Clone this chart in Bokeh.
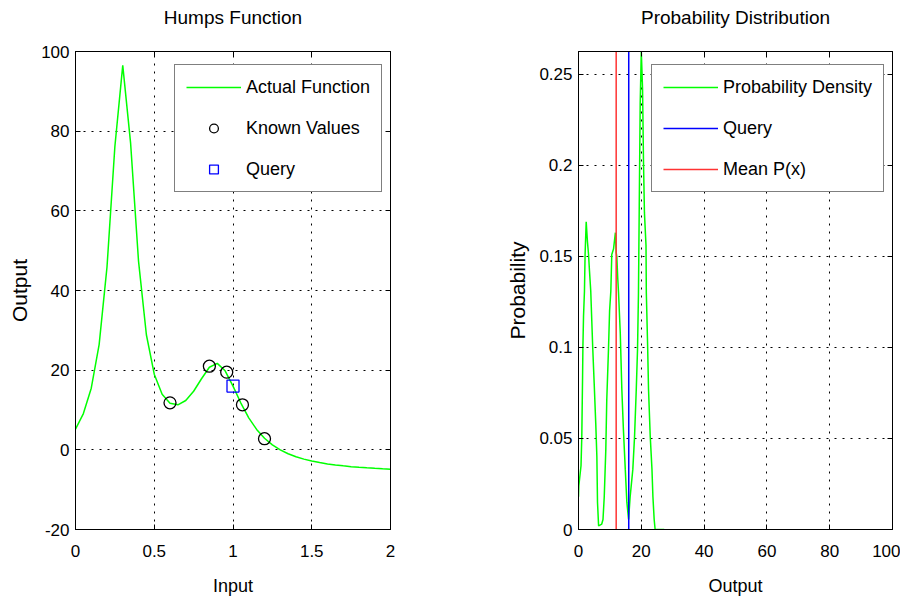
from bokeh.plotting import figure
from bokeh.layouts import row
from bokeh.models import (LinearAxis, FixedTicker, NumeralTickFormatter, Legend,
                          LegendItem, Range1d)
from bokeh.embed import file_html
from bokeh.resources import INLINE

# ---------------- data ----------------
humps_x = [0.00, 0.05, 0.10, 0.15, 0.20, 0.25, 0.30, 0.35, 0.40, 0.45, 0.50,
           0.55, 0.60, 0.65, 0.70, 0.75, 0.80, 0.85, 0.90, 0.95, 1.00,
           1.05, 1.10, 1.15, 1.20, 1.25, 1.30, 1.35, 1.40, 1.45, 1.50,
           1.55, 1.60, 1.65, 1.70, 1.75, 1.80, 1.85, 1.90, 1.95, 2.00]
humps_y = [5.18, 9.10, 15.47, 26.43, 45.89, 76.16, 96.50, 76.92, 47.45, 28.89, 19.00,
           13.95, 11.69, 11.30, 12.38, 14.71, 17.85, 20.73, 21.70, 19.84, 16.00,
           11.75, 8.04, 5.12, 2.91, 1.25, -0.01, -0.98, -1.73, -2.33, -2.81,
           -3.20, -3.53, -3.79, -4.02, -4.22, -4.38, -4.52, -4.65, -4.76, -4.86]
known_x = [0.60, 0.85, 0.96, 1.06, 1.20]
known_y = [11.8, 21.0, 19.5, 11.3, 2.8]
query_x = [1.00]
query_y = [16.0]

density_x = [0.0, 0.1, 0.8, 1.05, 1.3, 1.4, 1.6, 1.9, 2.1, 2.45, 2.85, 3.2, 3.5, 3.9,
             4.55, 5.0, 5.5, 5.85, 6.05, 6.4, 7.4, 7.8, 8.2, 8.7, 9.0, 9.55, 9.9,
             10.3, 10.6, 11.15, 11.75, 12.0, 12.2, 12.5, 12.75, 13.3, 13.8, 14.3,
             14.9, 15.4, 15.95, 16.45, 17.3, 17.85, 18.4, 18.8, 19.1, 19.35, 19.65,
             20.0, 20.4, 20.7, 21.0, 21.5, 21.6, 22.0, 22.3, 22.85, 23.4, 23.7,
             24.1, 24.4, 27.3]
density_y = [0.018, 0.024, 0.035, 0.051, 0.084, 0.100, 0.117, 0.131, 0.151, 0.169,
             0.158, 0.151, 0.142, 0.131, 0.099, 0.080, 0.058, 0.040, 0.015, 0.002,
             0.003, 0.0055, 0.018, 0.044, 0.071, 0.099, 0.120, 0.131, 0.151, 0.154,
             0.163, 0.152, 0.150, 0.138, 0.130, 0.108, 0.077, 0.055, 0.033, 0.015,
             0.0055, 0.018, 0.033, 0.051, 0.077, 0.099, 0.130, 0.178, 0.234, 0.2625,
             0.242, 0.202, 0.174, 0.156, 0.130, 0.102, 0.077, 0.051, 0.033, 0.018,
             0.0055, 0.0, 0.0]
query_value = 16.0
mean_value = 12.0

left_xticks = [0, 0.5, 1, 1.5, 2]
left_yticks = [-20, 0, 20, 40, 60, 80, 100]
right_xticks = [0, 20, 40, 60, 80, 100]
right_yticks = [0, 0.05, 0.1, 0.15, 0.2, 0.25]

FONT = "Liberation Sans"


def style(p, xt, yt, title):
    p.outline_line_color = "black"
    p.outline_line_width = 1
    for ax in p.xaxis + p.yaxis:
        ax.axis_line_color = "black"
        ax.major_tick_line_color = "black"
        ax.major_tick_in = 5
        ax.major_tick_out = 0
        ax.minor_tick_line_color = None
        ax.major_label_text_font = FONT
        ax.major_label_text_font_size = "17px"
        ax.major_label_text_color = "black"
        ax.axis_label_text_font = FONT
        ax.axis_label_text_font_style = "normal"
        ax.axis_label_text_color = "black"
        ax.formatter = NumeralTickFormatter(format="0.[00]")
    p.xaxis[0].axis_label_text_font_size = "18px"
    p.yaxis[0].axis_label_text_font_size = "21px"
    p.xaxis[0].ticker = FixedTicker(ticks=xt)
    p.yaxis[0].ticker = FixedTicker(ticks=yt)
    p.xaxis[0].major_label_standoff = 15
    p.yaxis[0].major_label_standoff = 6
    p.xaxis[0].axis_label_standoff = 16
    p.yaxis[0].axis_label_standoff = 7
    # top axis carries the panel title, right axis only carries ticks (MATLAB box)
    top = LinearAxis(ticker=FixedTicker(ticks=xt), major_label_text_color=None,
                     major_tick_in=5, major_tick_out=0, minor_tick_line_color=None,
                     axis_line_color="black", major_label_standoff=0,
                     axis_label=title, axis_label_text_font=FONT,
                     axis_label_text_font_size="19px", axis_label_text_font_style="normal",
                     axis_label_text_color="black", axis_label_standoff=24)
    right = LinearAxis(ticker=FixedTicker(ticks=yt), major_label_text_color=None,
                       major_tick_in=5, major_tick_out=0, minor_tick_line_color=None,
                       axis_line_color="black", major_label_standoff=0)
    p.add_layout(top, "above")
    p.add_layout(right, "right")
    p.xgrid[0].ticker = FixedTicker(ticks=xt)
    p.ygrid[0].ticker = FixedTicker(ticks=yt)
    for g in (p.xgrid[0], p.ygrid[0]):
        g.grid_line_color = "black"
        g.grid_line_dash = "2 6"
        g.grid_line_width = 1
    p.background_fill_color = "white"
    p.border_fill_color = "white"


def make_legend(p, items, loc):
    lg = Legend(items=items, location=loc)
    lg.label_text_font = FONT
    lg.label_text_font_size = "18px"
    lg.label_text_color = "black"
    lg.label_height = 22
    lg.glyph_height = 22
    lg.glyph_width = 55
    lg.label_standoff = 5
    lg.spacing = 19
    lg.padding = 11
    lg.margin = 0
    lg.border_line_color = "black"
    lg.border_line_width = 1
    lg.background_fill_color = "white"
    lg.background_fill_alpha = 1
    p.add_layout(lg, "center")


# ---------------- left plot ----------------
p1 = figure(width=477, height=600, output_backend="svg", toolbar_location=None,
            x_range=Range1d(0, 2), y_range=Range1d(-20, 100),
            x_axis_label="Input", y_axis_label="Output",
            min_border_left=75, min_border_right=87, min_border_top=51, min_border_bottom=71)
style(p1, left_xticks, left_yticks, "Humps Function")
r_line = p1.line(humps_x, humps_y, line_color="#00ff00", line_width=1.5)
r_known = p1.scatter(known_x, known_y, marker="circle", size=12, fill_color=None,
                     line_color="black", line_width=1.3)
r_query = p1.scatter(query_x, query_y, marker="square", size=12, fill_color=None,
                     line_color="blue", line_width=1.3)
make_legend(p1, [LegendItem(label="Actual Function", renderers=[r_line]),
                 LegendItem(label="Known Values", renderers=[r_known]),
                 LegendItem(label="Query", renderers=[r_query])], (99, 337))

# ---------------- right plot ----------------
p2 = figure(width=423, height=600, output_backend="svg", toolbar_location=None,
            x_range=Range1d(0, 100), y_range=Range1d(0, 0.2625),
            x_axis_label="Output", y_axis_label="Probability",
            min_border_left=101, min_border_right=8, min_border_top=51, min_border_bottom=71)
style(p2, right_xticks, right_yticks, "Probability Distribution")
r_dens = p2.line(density_x, density_y, line_color="#00ff00", line_width=1.5)
r_q = p2.line([query_value, query_value], [0, 0.2625], line_color="#0000ff", line_width=1.5)
r_m = p2.line([mean_value, mean_value], [0, 0.2625], line_color="#ff3333", line_width=1.5)
make_legend(p2, [LegendItem(label="Probability Density", renderers=[r_dens]),
                 LegendItem(label="Query", renderers=[r_q]),
                 LegendItem(label="Mean P(x)", renderers=[r_m])], (73, 337))

layout = row(p1, p2)
open("out.html", "w").write(file_html(layout, INLINE))
